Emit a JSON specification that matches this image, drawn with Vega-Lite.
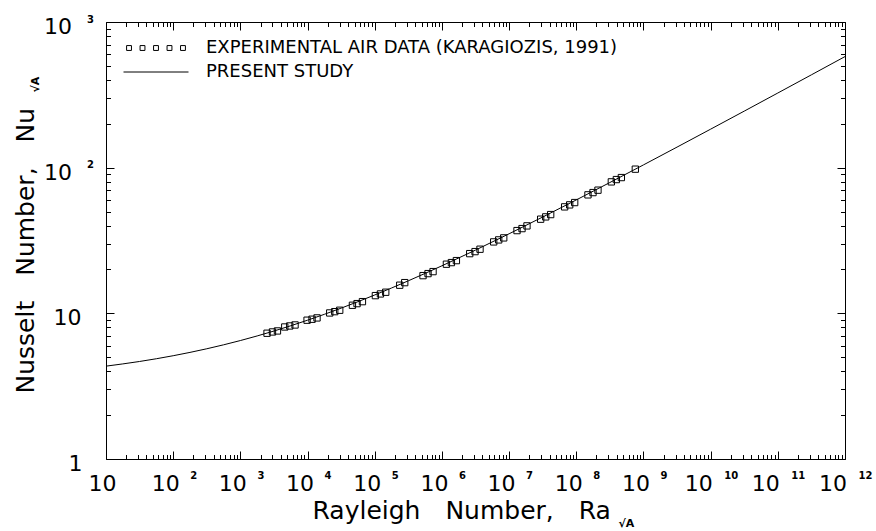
{
  "$schema": "https://vega.github.io/schema/vega-lite/v6.json",
  "width": 739,
  "height": 437,
  "autosize": "none",
  "padding": {"left": 106, "top": 22, "right": 31, "bottom": 72},
  "background": "white",
  "config": {
    "view": {"stroke": "black", "strokeWidth": 1},
    "font": "DejaVu Sans",
    "axis": {"grid": false, "domain": false, "labelFlush": false, "labelOverlap": false, "labelBound": false, "labelColor": "black", "titleColor": "black", "tickColor": "black", "labelFont": "DejaVu Sans", "titleFont": "DejaVu Sans"},
    "legend": {"labelFont": "DejaVu Sans", "labelColor": "black"}
  },
  "datasets": {
    "points": [
      {"Ra": 2495, "Nu": 7.30, "series": "EXPERIMENTAL AIR DATA (KARAGIOZIS, 1991)"},
      {"Ra": 3006, "Nu": 7.45, "series": "EXPERIMENTAL AIR DATA (KARAGIOZIS, 1991)"},
      {"Ra": 3565, "Nu": 7.57, "series": "EXPERIMENTAL AIR DATA (KARAGIOZIS, 1991)"},
      {"Ra": 4581, "Nu": 8.06, "series": "EXPERIMENTAL AIR DATA (KARAGIOZIS, 1991)"},
      {"Ra": 5433, "Nu": 8.19, "series": "EXPERIMENTAL AIR DATA (KARAGIOZIS, 1991)"},
      {"Ra": 6516, "Nu": 8.32, "series": "EXPERIMENTAL AIR DATA (KARAGIOZIS, 1991)"},
      {"Ra": 9840, "Nu": 8.97, "series": "EXPERIMENTAL AIR DATA (KARAGIOZIS, 1991)"},
      {"Ra": 11670, "Nu": 9.11, "series": "EXPERIMENTAL AIR DATA (KARAGIOZIS, 1991)"},
      {"Ra": 13840, "Nu": 9.30, "series": "EXPERIMENTAL AIR DATA (KARAGIOZIS, 1991)"},
      {"Ra": 21380, "Nu": 10.06, "series": "EXPERIMENTAL AIR DATA (KARAGIOZIS, 1991)"},
      {"Ra": 25400, "Nu": 10.27, "series": "EXPERIMENTAL AIR DATA (KARAGIOZIS, 1991)"},
      {"Ra": 30130, "Nu": 10.50, "series": "EXPERIMENTAL AIR DATA (KARAGIOZIS, 1991)"},
      {"Ra": 46580, "Nu": 11.36, "series": "EXPERIMENTAL AIR DATA (KARAGIOZIS, 1991)"},
      {"Ra": 54560, "Nu": 11.66, "series": "EXPERIMENTAL AIR DATA (KARAGIOZIS, 1991)"},
      {"Ra": 65630, "Nu": 12.03, "series": "EXPERIMENTAL AIR DATA (KARAGIOZIS, 1991)"},
      {"Ra": 102300, "Nu": 13.23, "series": "EXPERIMENTAL AIR DATA (KARAGIOZIS, 1991)"},
      {"Ra": 121600, "Nu": 13.59, "series": "EXPERIMENTAL AIR DATA (KARAGIOZIS, 1991)"},
      {"Ra": 145800, "Nu": 13.96, "series": "EXPERIMENTAL AIR DATA (KARAGIOZIS, 1991)"},
      {"Ra": 235600, "Nu": 15.60, "series": "EXPERIMENTAL AIR DATA (KARAGIOZIS, 1991)"},
      {"Ra": 279500, "Nu": 16.25, "series": "EXPERIMENTAL AIR DATA (KARAGIOZIS, 1991)"},
      {"Ra": 523600, "Nu": 18.15, "series": "EXPERIMENTAL AIR DATA (KARAGIOZIS, 1991)"},
      {"Ra": 621300, "Nu": 18.74, "series": "EXPERIMENTAL AIR DATA (KARAGIOZIS, 1991)"},
      {"Ra": 737900, "Nu": 19.34, "series": "EXPERIMENTAL AIR DATA (KARAGIOZIS, 1991)"},
      {"Ra": 1167000, "Nu": 21.74, "series": "EXPERIMENTAL AIR DATA (KARAGIOZIS, 1991)"},
      {"Ra": 1384000, "Nu": 22.30, "series": "EXPERIMENTAL AIR DATA (KARAGIOZIS, 1991)"},
      {"Ra": 1643000, "Nu": 23.01, "series": "EXPERIMENTAL AIR DATA (KARAGIOZIS, 1991)"},
      {"Ra": 2594000, "Nu": 25.70, "series": "EXPERIMENTAL AIR DATA (KARAGIOZIS, 1991)"},
      {"Ra": 3112000, "Nu": 26.53, "series": "EXPERIMENTAL AIR DATA (KARAGIOZIS, 1991)"},
      {"Ra": 3691000, "Nu": 27.55, "series": "EXPERIMENTAL AIR DATA (KARAGIOZIS, 1991)"},
      {"Ra": 5902000, "Nu": 30.93, "series": "EXPERIMENTAL AIR DATA (KARAGIOZIS, 1991)"},
      {"Ra": 7003000, "Nu": 31.92, "series": "EXPERIMENTAL AIR DATA (KARAGIOZIS, 1991)"},
      {"Ra": 8318000, "Nu": 32.95, "series": "EXPERIMENTAL AIR DATA (KARAGIOZIS, 1991)"},
      {"Ra": 13120000, "Nu": 36.98, "series": "EXPERIMENTAL AIR DATA (KARAGIOZIS, 1991)"},
      {"Ra": 15570000, "Nu": 38.17, "series": "EXPERIMENTAL AIR DATA (KARAGIOZIS, 1991)"},
      {"Ra": 18460000, "Nu": 39.84, "series": "EXPERIMENTAL AIR DATA (KARAGIOZIS, 1991)"},
      {"Ra": 29510000, "Nu": 44.29, "series": "EXPERIMENTAL AIR DATA (KARAGIOZIS, 1991)"},
      {"Ra": 35080000, "Nu": 45.93, "series": "EXPERIMENTAL AIR DATA (KARAGIOZIS, 1991)"},
      {"Ra": 41590000, "Nu": 47.64, "series": "EXPERIMENTAL AIR DATA (KARAGIOZIS, 1991)"},
      {"Ra": 67140000, "Nu": 53.81, "series": "EXPERIMENTAL AIR DATA (KARAGIOZIS, 1991)"},
      {"Ra": 79800000, "Nu": 55.54, "series": "EXPERIMENTAL AIR DATA (KARAGIOZIS, 1991)"},
      {"Ra": 94650000, "Nu": 57.60, "series": "EXPERIMENTAL AIR DATA (KARAGIOZIS, 1991)"},
      {"Ra": 149300000, "Nu": 65.06, "series": "EXPERIMENTAL AIR DATA (KARAGIOZIS, 1991)"},
      {"Ra": 177400000, "Nu": 67.45, "series": "EXPERIMENTAL AIR DATA (KARAGIOZIS, 1991)"},
      {"Ra": 210400000, "Nu": 70.06, "series": "EXPERIMENTAL AIR DATA (KARAGIOZIS, 1991)"},
      {"Ra": 332700000, "Nu": 79.89, "series": "EXPERIMENTAL AIR DATA (KARAGIOZIS, 1991)"},
      {"Ra": 395100000, "Nu": 82.85, "series": "EXPERIMENTAL AIR DATA (KARAGIOZIS, 1991)"},
      {"Ra": 469000000, "Nu": 85.51, "series": "EXPERIMENTAL AIR DATA (KARAGIOZIS, 1991)"},
      {"Ra": 756800000, "Nu": 97.66, "series": "EXPERIMENTAL AIR DATA (KARAGIOZIS, 1991)"}
    ],
    "curve": [
      {"Ra": 10, "Nu": 4.339, "series": "PRESENT STUDY"},
      {"Ra": 31.62, "Nu": 4.672, "series": "PRESENT STUDY"},
      {"Ra": 100, "Nu": 5.117, "series": "PRESENT STUDY"},
      {"Ra": 316.2, "Nu": 5.711, "series": "PRESENT STUDY"},
      {"Ra": 1000, "Nu": 6.503, "series": "PRESENT STUDY"},
      {"Ra": 3162, "Nu": 7.561, "series": "PRESENT STUDY"},
      {"Ra": 10000, "Nu": 8.972, "series": "PRESENT STUDY"},
      {"Ra": 31623, "Nu": 10.854, "series": "PRESENT STUDY"},
      {"Ra": 100000, "Nu": 13.367, "series": "PRESENT STUDY"},
      {"Ra": 316228, "Nu": 16.722, "series": "PRESENT STUDY"},
      {"Ra": 1000000, "Nu": 21.199, "series": "PRESENT STUDY"},
      {"Ra": 3162278, "Nu": 27.178, "series": "PRESENT STUDY"},
      {"Ra": 10000000, "Nu": 35.159, "series": "PRESENT STUDY"},
      {"Ra": 31622777, "Nu": 45.817, "series": "PRESENT STUDY"},
      {"Ra": 100000000, "Nu": 60.053, "series": "PRESENT STUDY"},
      {"Ra": 316227766, "Nu": 79.066, "series": "PRESENT STUDY"},
      {"Ra": 1000000000, "Nu": 104.47, "series": "PRESENT STUDY"},
      {"Ra": 3162277660, "Nu": 138.42, "series": "PRESENT STUDY"},
      {"Ra": 10000000000, "Nu": 183.78, "series": "PRESENT STUDY"},
      {"Ra": 31622776602, "Nu": 244.43, "series": "PRESENT STUDY"},
      {"Ra": 100000000000, "Nu": 325.51, "series": "PRESENT STUDY"},
      {"Ra": 316227766017, "Nu": 433.95, "series": "PRESENT STUDY"},
      {"Ra": 1000000000000, "Nu": 579.04, "series": "PRESENT STUDY"}
    ]
  },
  "layer": [
    {
      "data": {"name": "points"},
      "mark": {"type": "point", "shape": "square", "size": 40, "filled": false, "strokeWidth": 1, "opacity": 1, "color": "black"},
      "encoding": {
        "x": {
          "field": "Ra", "type": "quantitative",
          "scale": {"type": "log", "domain": [10, 1e12], "nice": false},
          "axis": {
            "orient": "bottom", "labels": false, "title": null, "ticks": true, "tickWidth": 1,
            "values": [10,20,30,40,50,60,70,80,90,100,200,300,400,500,600,700,800,900,1000,2000,3000,4000,5000,6000,7000,8000,9000,1e4,2e4,3e4,4e4,5e4,6e4,7e4,8e4,9e4,1e5,2e5,3e5,4e5,5e5,6e5,7e5,8e5,9e5,1e6,2e6,3e6,4e6,5e6,6e6,7e6,8e6,9e6,1e7,2e7,3e7,4e7,5e7,6e7,7e7,8e7,9e7,1e8,2e8,3e8,4e8,5e8,6e8,7e8,8e8,9e8,1e9,2e9,3e9,4e9,5e9,6e9,7e9,8e9,9e9,1e10,2e10,3e10,4e10,5e10,6e10,7e10,8e10,9e10,1e11,2e11,3e11,4e11,5e11,6e11,7e11,8e11,9e11,1e12],
            "tickSize": {"condition": {"test": "abs(log(datum.value)/LN10 - round(log(datum.value)/LN10)) < 0.001", "value": -8}, "value": -4.5}
          }
        },
        "y": {
          "field": "Nu", "type": "quantitative",
          "scale": {"type": "log", "domain": [1, 1000], "nice": false},
          "axis": {
            "orient": "left", "labels": false, "title": null, "ticks": true, "tickWidth": 1,
            "values": [1,2,3,4,5,6,7,8,9,10,20,30,40,50,60,70,80,90,100,200,300,400,500,600,700,800,900,1000],
            "tickSize": {"condition": {"test": "abs(log(datum.value)/LN10 - round(log(datum.value)/LN10)) < 0.001", "value": -8}, "value": -4.5}
          }
        }
      }
    },
    {
      "data": {"name": "curve"},
      "mark": {"type": "line", "strokeWidth": 1, "interpolate": "monotone", "color": "black"},
      "encoding": {
        "x": {
          "field": "Ra", "type": "quantitative",
          "axis": {
            "orient": "bottom", "ticks": false, "tickSize": 0,
            "values": [10],
            "labelExpr": "'10'", "labelFontSize": 22, "labelAlign": "center", "labelBaseline": "middle", "labelPadding": 24,
            "labelOffset": -4,
            "title": "Rayleigh\u2003Number,\u2003Ra", "titleFontSize": 25, "titleFontWeight": "normal",
            "titleX": 206, "titleY": 59, "titleAlign": "left", "titleBaseline": "alphabetic", "titleAnchor": "start"
          }
        },
        "y": {
          "field": "Nu", "type": "quantitative",
          "axis": {
            "orient": "left", "ticks": false, "tickSize": 0,
            "values": [1, 10],
            "labelExpr": "datum.value < 2 ? '1' : '10'", "labelFontSize": 22, "labelAlign": "center", "labelBaseline": "middle",
            "labelPadding": {"condition": {"test": "datum.value < 2", "value": 31}, "value": 39},
            "labelOffset": 4.5,
            "title": "Nusselt\u2003Number,\u2003Nu", "titleFontSize": 25, "titleFontWeight": "normal",
            "titleX": -73, "titleY": 371, "titleAngle": 270, "titleAlign": "left", "titleBaseline": "alphabetic", "titleAnchor": "start"
          }
        }
      }
    },
    {
      "data": {"name": "points"},
      "mark": {"type": "point", "opacity": 0},
      "encoding": {
        "x": {
          "field": "Ra", "type": "quantitative",
          "axis": {
            "orient": "bottom", "ticks": false, "tickSize": 0, "title": null,
            "values": [100,1000,1e4,1e5,1e6,1e7,1e8,1e9,1e10,1e11,1e12],
            "labelExpr": "'' + round(log(datum.value)/LN10)", "labelFontSize": 10, "labelFontWeight": "bold",
            "labelAlign": "center", "labelBaseline": "middle", "labelPadding": 16.5, "labelOffset": 20
          }
        },
        "y": {
          "field": "Nu", "type": "quantitative",
          "axis": {
            "orient": "left", "ticks": false, "tickSize": 0, "title": null,
            "values": [100, 1000],
            "labelExpr": "'' + round(log(datum.value)/LN10)", "labelFontSize": 10, "labelFontWeight": "bold",
            "labelAlign": "center", "labelBaseline": "middle", "labelPadding": 16, "labelOffset": -3
          }
        }
      }
    },
    {
      "data": {"name": "points"},
      "mark": {"type": "point", "opacity": 0},
      "encoding": {
        "x": {
          "field": "Ra", "type": "quantitative",
          "axis": {
            "orient": "bottom", "ticks": false, "tickSize": 0, "title": null,
            "values": [1e2,1e3,1e4,1e5,1e6,1e7,1e8,1e9,1e10,1e11,1e12],
            "labelExpr": "'10'", "labelFontSize": 22, "labelAlign": "center", "labelBaseline": "middle", "labelPadding": 24,
            "labelOffset": {"condition": {"test": "datum.value > 5e9", "value": -12.5}, "value": -8}
          }
        },
        "y": {
          "field": "Nu", "type": "quantitative",
          "axis": {
            "orient": "left", "ticks": false, "tickSize": 0, "title": null,
            "values": [100, 1000],
            "labelExpr": "'10'", "labelFontSize": 22, "labelAlign": "center", "labelBaseline": "middle",
            "labelPadding": 48.5, "labelOffset": 4.5
          }
        }
      }
    },
    {
      "data": {"name": "points"},
      "mark": {"type": "point", "opacity": 0},
      "encoding": {
        "x": {
          "field": "Ra", "type": "quantitative",
          "axis": {
            "orient": "top", "labels": false, "ticks": true, "tickWidth": 1,
            "values": [10,20,30,40,50,60,70,80,90,100,200,300,400,500,600,700,800,900,1000,2000,3000,4000,5000,6000,7000,8000,9000,1e4,2e4,3e4,4e4,5e4,6e4,7e4,8e4,9e4,1e5,2e5,3e5,4e5,5e5,6e5,7e5,8e5,9e5,1e6,2e6,3e6,4e6,5e6,6e6,7e6,8e6,9e6,1e7,2e7,3e7,4e7,5e7,6e7,7e7,8e7,9e7,1e8,2e8,3e8,4e8,5e8,6e8,7e8,8e8,9e8,1e9,2e9,3e9,4e9,5e9,6e9,7e9,8e9,9e9,1e10,2e10,3e10,4e10,5e10,6e10,7e10,8e10,9e10,1e11,2e11,3e11,4e11,5e11,6e11,7e11,8e11,9e11,1e12],
            "tickSize": {"condition": {"test": "abs(log(datum.value)/LN10 - round(log(datum.value)/LN10)) < 0.001", "value": -8}, "value": -4.5},
            "title": "√A", "titleFontSize": 11, "titleFontWeight": "bold",
            "titleX": 512, "titleY": 504, "titleAlign": "left", "titleBaseline": "alphabetic", "titleAnchor": "start", "titleAngle": 0
          }
        },
        "y": {
          "field": "Nu", "type": "quantitative",
          "axis": {
            "orient": "right", "labels": false, "ticks": true, "tickWidth": 1,
            "values": [1,2,3,4,5,6,7,8,9,10,20,30,40,50,60,70,80,90,100,200,300,400,500,600,700,800,900,1000],
            "tickSize": {"condition": {"test": "abs(log(datum.value)/LN10 - round(log(datum.value)/LN10)) < 0.001", "value": -8}, "value": -4.5},
            "title": "√A", "titleFontSize": 11, "titleFontWeight": "bold",
            "titleX": -807, "titleY": 70, "titleAngle": 270, "titleAlign": "left", "titleBaseline": "alphabetic", "titleAnchor": "start"
          }
        }
      }
    },
    {
      "data": {"name": "points"},
      "mark": {"type": "point", "opacity": 0},
      "encoding": {
        "color": {
          "field": "series", "type": "nominal",
          "scale": {"range": ["black"]},
          "legend": {
            "orient": "none", "legendX": 17, "legendY": -7, "title": null, "padding": 0,
            "labelFontSize": 18, "labelOffset": 17, "labelBaseline": "middle", "labelLimit": 600,
            "symbolType": "M-0.905,-0.075H-0.755V0.075H-0.905Z M-0.49,-0.075H-0.34V0.075H-0.49Z M-0.075,-0.075H0.075V0.075H-0.075Z M0.34,-0.075H0.49V0.075H0.34Z M0.755,-0.075H0.905V0.075H0.755Z",
            "symbolSize": 4225, "symbolOpacity": 1, "symbolStrokeColor": "black", "symbolFillColor": "transparent", "symbolStrokeWidth": 1
          }
        }
      }
    },
    {
      "data": {"name": "curve"},
      "mark": {"type": "point", "opacity": 0},
      "encoding": {
        "stroke": {
          "field": "series", "type": "nominal",
          "scale": {"range": ["black"]},
          "legend": {
            "orient": "none", "legendX": 17, "legendY": 17, "title": null, "padding": 0,
            "labelFontSize": 18, "labelOffset": 17, "labelBaseline": "middle", "labelLimit": 600,
            "symbolType": "M-1,0H1",
            "symbolSize": 4225, "symbolOpacity": 1, "symbolStrokeColor": "black", "symbolFillColor": "transparent", "symbolStrokeWidth": 1
          }
        }
      }
    }
  ],
  "resolve": {"axis": {"x": "independent", "y": "independent"}}
}
